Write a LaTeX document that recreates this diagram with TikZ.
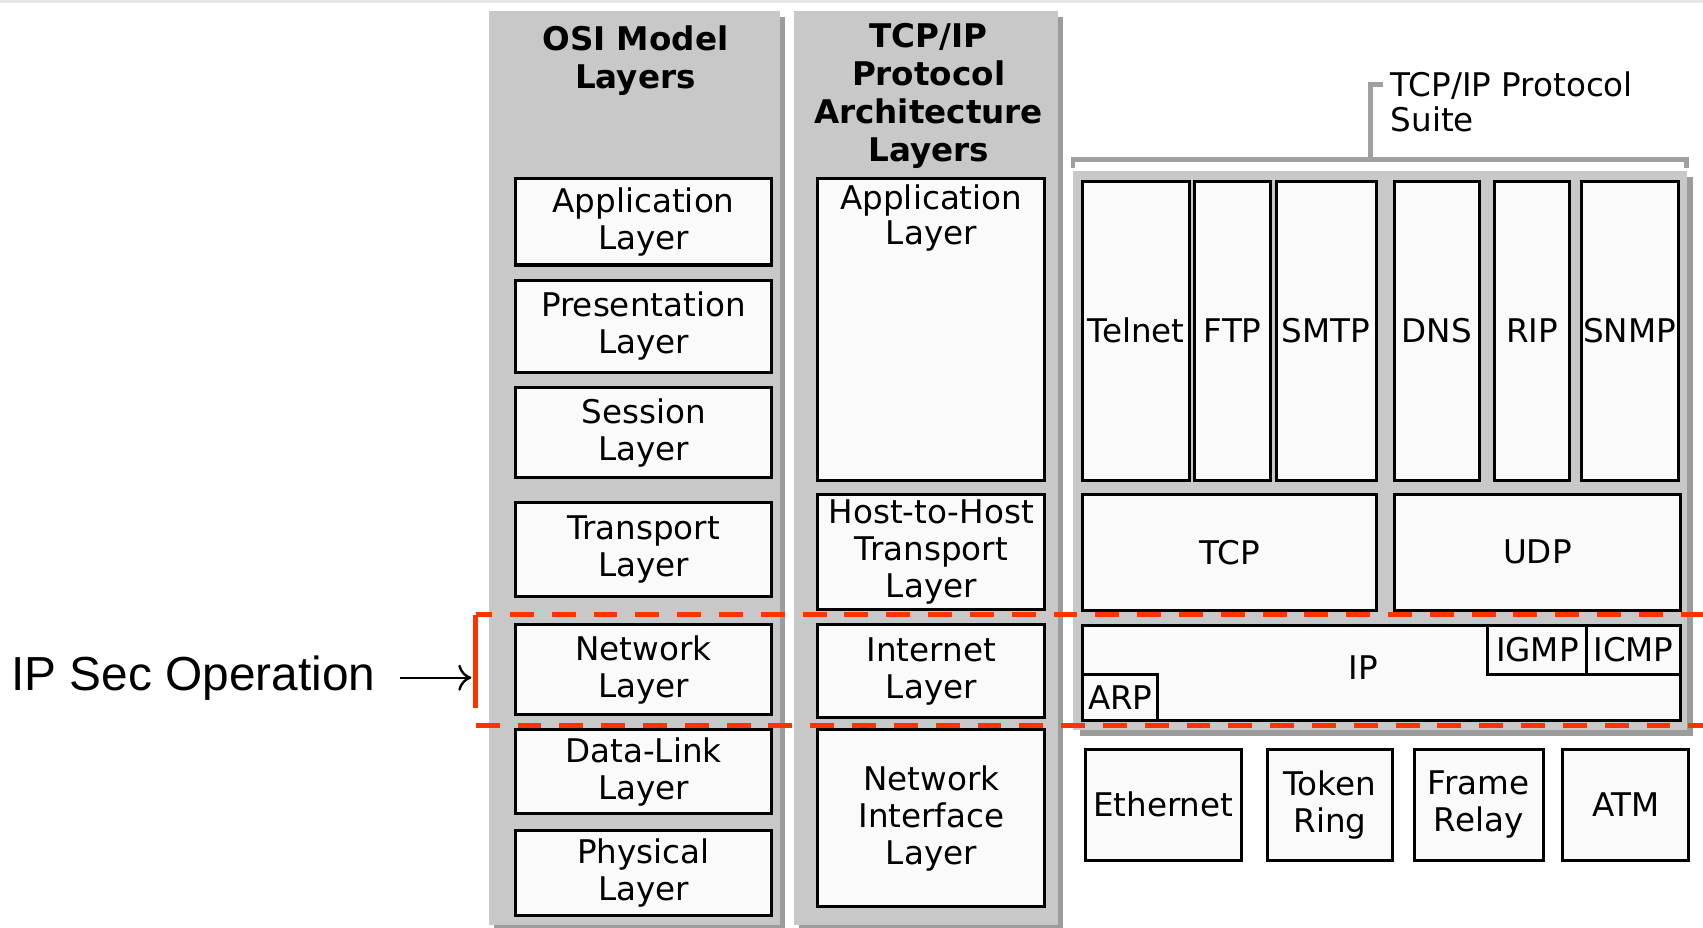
\documentclass[tikz,border=0pt]{standalone}
\usepackage{fontspec}
\setmainfont{DejaVu Sans}
\newfontfamily\arialf{Liberation Sans}
\usetikzlibrary{arrows.meta}
\definecolor{panelgray}{HTML}{C8C8C8}
\definecolor{shadowgray}{HTML}{9C9C9C}
\definecolor{boxfill}{HTML}{FAFAFA}
\definecolor{ipsecred}{HTML}{FF3300}
\definecolor{brackgray}{HTML}{A0A0A0}
\definecolor{topline}{HTML}{E6E6E6}
\newcommand\lbx[6]{\node[lbox, minimum width={(#4-#2)*0.5pt}, minimum height={(#5-#3)*0.5pt}] (#1) at ({(#2+#4)/2},{(#3+#5)/2}) {#6};}
\begin{document}
\begin{tikzpicture}[x=0.5pt,y=-0.5pt,
  lbox/.style={draw=black, line width=1.4pt, fill=boxfill, inner sep=0pt, align=center, font=\fontsize{15}{17}\selectfont},
  coltitle/.style={align=center, font=\bfseries\fontsize{15}{17.5}\selectfont, inner sep=0pt},
  panel/.style={fill=panelgray},
  shadow/.style={fill=shadowgray},
  redline/.style={draw=ipsecred, line width=2.5pt, dash pattern=on 11pt off 8.25pt},
  brack/.style={draw=brackgray, line width=2.2pt, line join=miter}]
\useasboundingbox (0,0) rectangle (1568,854);
\fill[white] (0,0) rectangle (1568,854);
\fill[topline] (0,0) rectangle (1568,3);

% column panels with shadows
\path[shadow] (455,16) rectangle (723,854);
\path[panel] (450,10) rectangle (718,852);
\path[shadow] (736,16) rectangle (979,854);
\path[panel] (731,10) rectangle (974,852);
\path[shadow] (994,163) rectangle (1559,678);
\path[panel] (988,157) rectangle (1553,672);

% titles
\node[coltitle] (osititle) at (585,55.5) {OSI Model\\Layers};
\node[coltitle] (tcptitle) at (855,88.5) {TCP/IP\\Protocol\\Architecture\\Layers};

% OSI layers
\lbx{oapp}{475}{164}{710}{244}{Application\\Layer}
\lbx{opres}{475}{258}{710}{343}{Presentation\\Layer}
\lbx{osess}{475}{357}{710}{440}{Session\\Layer}
\lbx{otrans}{475}{463}{710}{549}{Transport\\Layer}
\lbx{onet}{475}{575}{710}{658}{Network\\Layer}
\lbx{odl}{475}{672}{710}{749}{Data-Link\\Layer}
\lbx{ophy}{475}{765}{710}{843}{Physical\\Layer}

% TCP/IP architecture layers
\node[lbox, minimum width={209*0.5pt}, minimum height={278*0.5pt},
  label={[anchor=north, inner sep=0pt, yshift=-3.5pt, align=center, font=\fontsize{15}{16}\selectfont]north:Application\\Layer}]
  (tapp) at (857.5,303) {};
\lbx{thost}{753}{455}{962}{561}{Host-to-Host\\Transport\\Layer}
\lbx{tint}{753}{575}{962}{661}{Internet\\Layer}
\lbx{tnif}{753}{672}{962}{835}{Network\\Interface\\Layer}

% protocol suite
\lbx{telnet}{997}{167}{1095}{442}{Telnet}
\lbx{ftp}{1100}{167}{1170}{442}{FTP}
\lbx{smtp}{1175}{167}{1267}{442}{SMTP}
\lbx{dns}{1284}{167}{1362}{442}{DNS}
\lbx{rip}{1376}{167}{1445}{442}{RIP}
\lbx{snmp}{1456}{167}{1545}{442}{SNMP}
\lbx{tcp}{997}{455}{1267}{562}{TCP}
\lbx{udp}{1284}{455}{1547}{562}{UDP}
\node[lbox, minimum width={550*0.5pt}, minimum height={87*0.5pt},
  label={[inner sep=0pt, xshift=-8.5pt, yshift=2.2pt, font=\fontsize{15}{17}\selectfont]center:IP}]
  (ip) at (1272,619.5) {};
\lbx{igmp}{1370}{576}{1461}{621}{IGMP}
\lbx{icmp}{1461}{576}{1547}{621}{ICMP}
\lbx{arp}{997}{621}{1066}{663}{ARP}
\lbx{eth}{999}{690}{1143}{792}{Ethernet}
\lbx{token}{1167}{690}{1282}{792}{Token\\Ring}
\lbx{frame}{1302}{690}{1421}{792}{Frame\\Relay}
\lbx{atm}{1439}{690}{1555}{792}{ATM}

% suite bracket and label
\node[anchor=west, align=left, inner sep=0pt, font=\fontsize{15}{16}\selectfont] (suite) at (1280,94) {TCP/IP Protocol\\Suite};
\coordinate (brackstem) at (1262,147);
\draw[brack] (988,155) -- (988,147) -- (1553,147) -- (1553,155);
\draw[brack] (brackstem) -- (1262,78) -- (1273,78);

% IPSec region
\draw[redline, dash phase=3.5pt] (438,566) -- (1568,566);
\draw[redline, dash pattern=on 43pt off 20pt] (438,566) -- (438,668);
\draw[redline] (438,668) -- (1568,668);

\node[anchor=west, inner sep=0pt, font=\arialf\fontsize{22}{26}\selectfont] (ipsec) at (10,624) {IP Sec Operation};
\coordinate (ipsectip) at (434,624);
\draw[line width=1.1pt, -{To[length=6pt,width=12pt]}, shorten <=11pt] (ipsec.east) -- (ipsectip);
\end{tikzpicture}
\end{document}
